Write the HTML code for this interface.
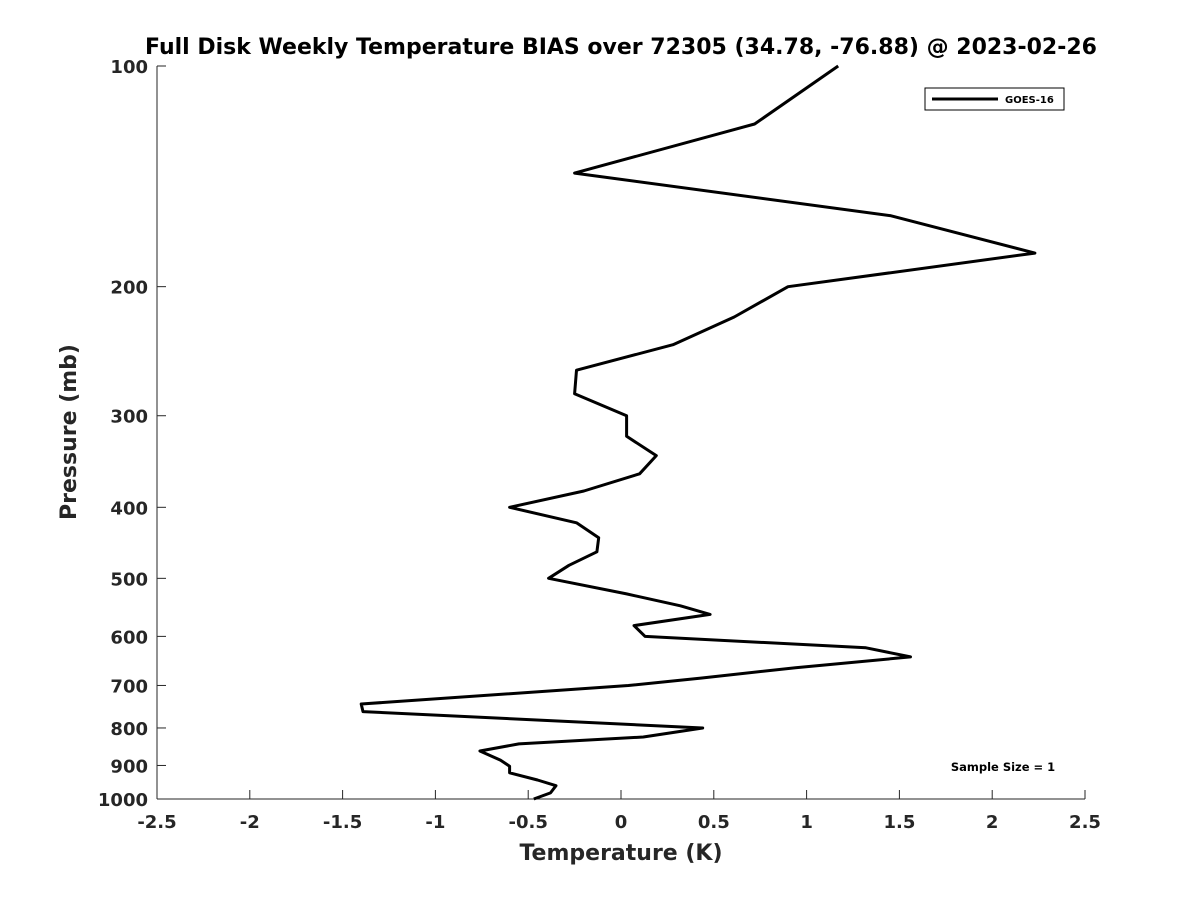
<!DOCTYPE html>
<html><head><meta charset="utf-8"><style>
body{margin:0;background:#fff;}
svg text{font-family:"DejaVu Sans","Liberation Sans",sans-serif;font-weight:bold;fill:#262626;}
</style></head><body>
<svg id="chart" width="1200" height="900">
<rect width="1200" height="900" fill="#fff"/>
<text x="621" y="54" text-anchor="middle" font-size="22" style="fill:#000">Full Disk Weekly Temperature BIAS over 72305 (34.78, -76.88) @ 2023-02-26</text>
<g id="axes"></g>
<path id="line" fill="none" stroke="#000" stroke-width="3" stroke-linejoin="round"/>
<g>
<rect x="925" y="88" width="139" height="22" fill="#fff" stroke="#000" stroke-width="1"/>
<line x1="932" y1="99" x2="998" y2="99" stroke="#000" stroke-width="3"/>
<text x="1005" y="103" font-size="10" style="fill:#000">GOES-16</text>
</g>
<text x="1003" y="771" text-anchor="middle" font-size="11.5" style="fill:#000">Sample Size = 1</text>
<text x="621" y="860" text-anchor="middle" font-size="22">Temperature (K)</text>
<text transform="translate(76,432) rotate(-90)" text-anchor="middle" font-size="22">Pressure (mb)</text>
</svg>
<script>
const pressures=[100,120,140,160,180,200,220,240,260,280,300,320,340,360,380,400,420,440,460,480,500,525,545,560,580,600,622,640,662,684,700,742,760,800,823,841,860,885,902,921,942,959,981,1000];
const temps=[1.17,0.72,-0.25,1.45,2.23,0.90,0.61,0.28,-0.24,-0.25,0.03,0.03,0.19,0.10,-0.20,-0.60,-0.24,-0.12,-0.13,-0.28,-0.39,0.03,0.32,0.48,0.07,0.13,1.32,1.56,0.94,0.43,0.04,-1.40,-1.39,0.44,0.12,-0.55,-0.76,-0.65,-0.60,-0.60,-0.45,-0.35,-0.38,-0.47];
const xTicks=[-2.5,-2,-1.5,-1,-0.5,0,0.5,1,1.5,2,2.5];
const yTicks=[100,200,300,400,500,600,700,800,900,1000];
const X0=157,X1=1085,Y0=66,Y1=799;
function xs(t){return X0+(t+2.5)/5*(X1-X0);}
function ys(p){return Y0+(Math.log10(p)-2)*(Y1-Y0);}
const NS="http://www.w3.org/2000/svg";
const ax=document.getElementById('axes');
function mk(tag,attrs){const e=document.createElementNS(NS,tag);for(const k in attrs)e.setAttribute(k,attrs[k]);ax.appendChild(e);return e;}
let l=mk('line',{x1:X0,y1:Y0,x2:X0,y2:Y1,stroke:'#262626','stroke-width':1});


l=mk('line',{x1:X0,y1:Y1,x2:X1,y2:Y1,stroke:'#262626','stroke-width':1});


xTicks.forEach(t=>{
 const x=xs(t);
 mk('line',{x1:x,y1:Y1,x2:x,y2:Y1-9,stroke:'#262626'});
 const tx=mk('text',{x:x,y:Y1+29,'text-anchor':'middle','font-size':18});
 tx.textContent=String(t);
 
 
});
yTicks.forEach(p=>{
 const y=ys(p);
 mk('line',{x1:X0,y1:y,x2:X0+9,y2:y,stroke:'#262626'});
 const tx=mk('text',{x:X0-9,y:y+7,'text-anchor':'end','font-size':18});
 tx.textContent=String(p);
 
 
});
document.getElementById('line').setAttribute('d',pressures.map((p,i)=>(i?'L':'M')+xs(temps[i]).toFixed(1)+','+ys(p).toFixed(1)).join(' '));
</script>
</body></html>
